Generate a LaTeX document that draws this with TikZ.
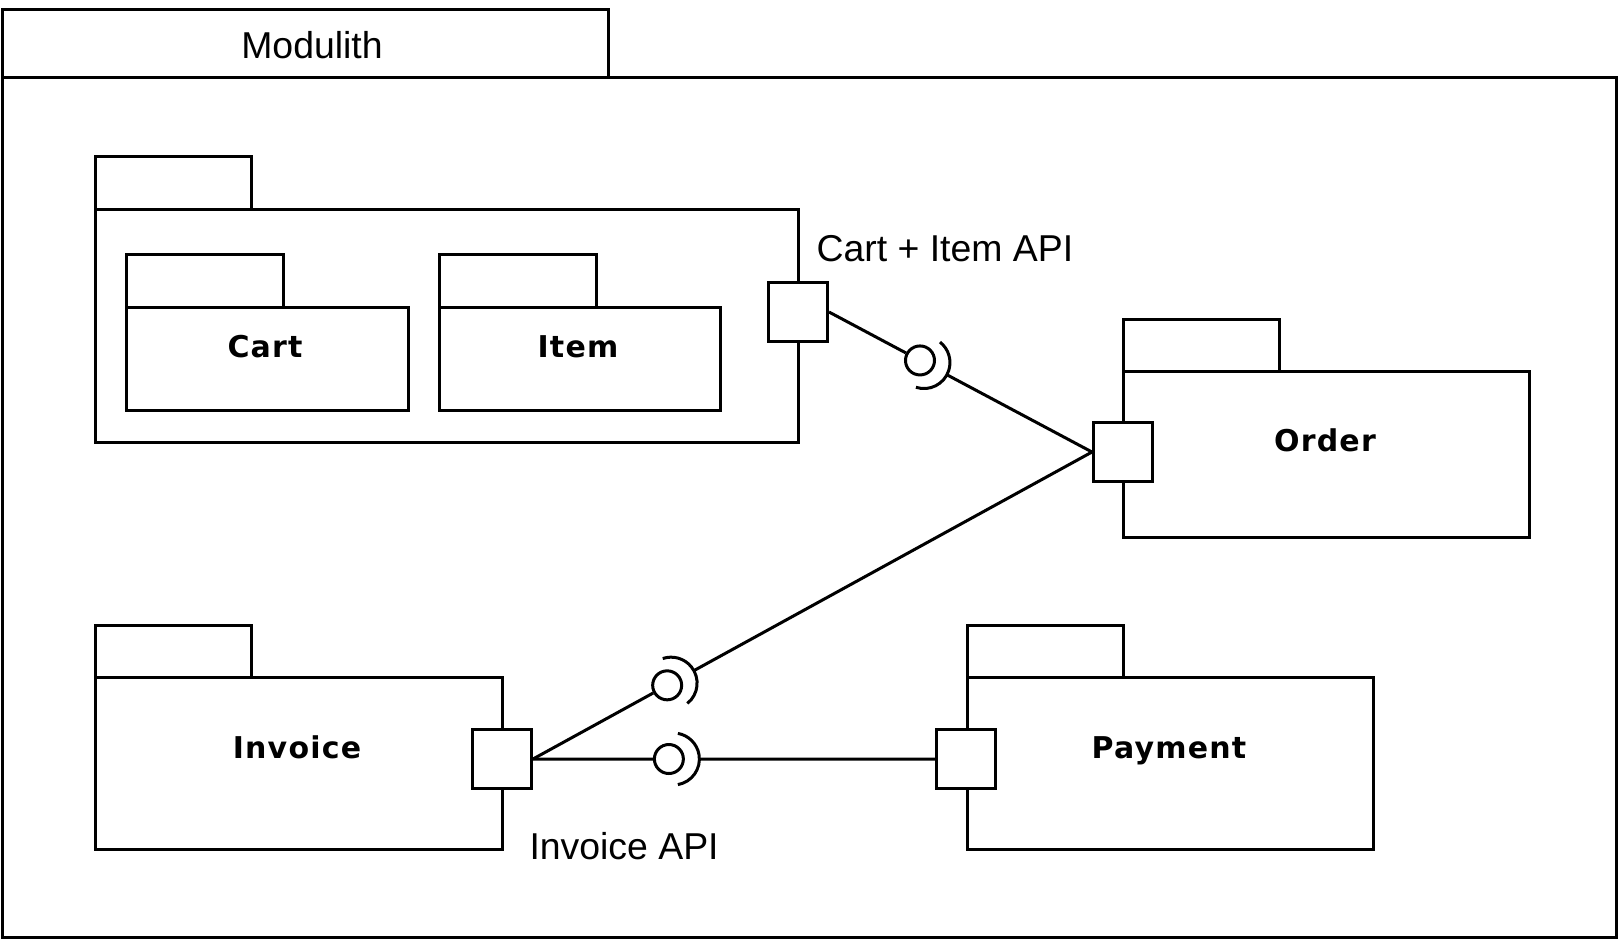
\documentclass[tikz,border=0pt]{standalone}
\usepackage{fontspec}
\setmainfont{Liberation Sans}
\newfontfamily\modfont[LetterSpace=4]{DejaVu Sans}
\usetikzlibrary{calc}

\begin{document}
\begin{tikzpicture}[x=0.5pt,y=0.5pt,line width=1.5pt,
  modname/.style={anchor=base,inner sep=0pt,font=\modfont\bfseries\fontsize{15pt}{18pt}\selectfont},
  apiname/.style={anchor=base west,inner sep=0pt,font=\fontsize{18.7pt}{22pt}\selectfont},
  port/.style={draw,fill=white,rectangle,minimum size=29.5pt,inner sep=0pt},
  ball/.style={draw,circle,minimum size=14.5pt,inner sep=0pt}]
\useasboundingbox (0,0) rectangle (1619,-939);
% Modulith frame
\draw (2,-9) rectangle (608,-77);
\draw (2,-77) rectangle (1616,-937);
\node[anchor=base,inner sep=0pt,font=\fontsize{18.7pt}{22pt}\selectfont] (modulith) at (312,-58) {Modulith};

% Cart + Item package
\draw (95,-156) rectangle (251,-209);
\draw (95,-209) rectangle (798,-442);
\draw (126,-254) rectangle (283,-307);
\draw (126,-307) rectangle (408,-410);
\node[modname] (cart) at (265,-357) {Cart};
\draw (439,-254) rectangle (596,-307);
\draw (439,-307) rectangle (720,-410);
\node[modname] (item) at (578,-357) {Item};

% Order
\draw (1123,-319) rectangle (1279,-371);
\draw (1123,-371) rectangle (1529,-537);
\node[modname] (order) at (1325,-451) {Order};

% Invoice
\draw (95,-625) rectangle (251,-677);
\draw (95,-677) rectangle (502,-849);
\node[modname] (invoice) at (297,-758) {Invoice};

% Payment
\draw (967,-625) rectangle (1123,-677);
\draw (967,-677) rectangle (1373,-849);
\node[modname] (payment) at (1169,-758) {Payment};

% ports
\node[port] (portC) at (798,-312) {};
\node[port] (portO) at (1123,-452) {};
\node[port] (portI) at (502,-759) {};
\node[port] (portP) at (966,-759) {};

\node[apiname] (cartapi) at (815,-261) {Cart + Item API};
\node[apiname] (invoiceapi) at (528,-859) {Invoice API};

% provided / required interfaces
\node[ball] (ballA) at ($(portC.east)!0.346!(portO.west)$) {};
\node[ball] (ballB) at ($(portI.east)!0.24!(portO.west)$) {};
\node[ball] (ballC) at ($(portI.east)!0.338!(portP.west)$) {};
\coordinate (sockA) at ($(ballA)!15.25pt!(portO.west)$);
\coordinate (sockB) at ($(ballB)!15.25pt!(portO.west)$);
\coordinate (sockC) at ($(ballC)!15.25pt!(portP.west)$);

\draw ($(ballA)!2.25pt!(portO.west)$) ++(-108:13pt) arc[start angle=-108,end angle=52,radius=13pt];
\draw ($(ballB)!2.25pt!(portO.west)$) ++(-51.2:13pt) arc[start angle=-51.2,end angle=108.8,radius=13pt];
\draw ($(ballC)!2.25pt!(portP.west)$) ++(-80:13pt) arc[start angle=-80,end angle=80,radius=13pt];

% connectors
\draw (portC.east) -- (ballA);
\draw (sockA) -- (portO.west);
\draw (portI.east) -- (ballB);
\draw (sockB) -- (portO.west);
\draw (portI.east) -- (ballC);
\draw (sockC) -- (portP.west);
\end{tikzpicture}
\end{document}
